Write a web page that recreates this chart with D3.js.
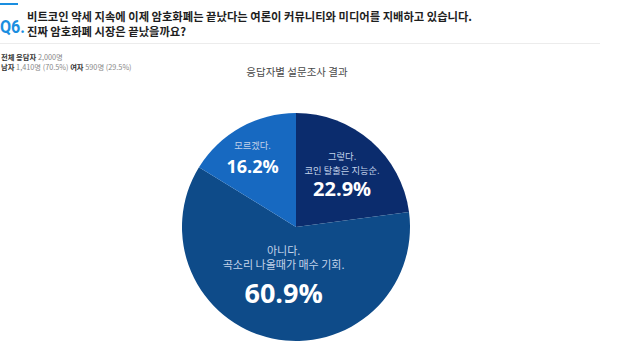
<!DOCTYPE html>
<html><head><meta charset="utf-8">
<script src="https://cdn.jsdelivr.net/npm/d3@7/dist/d3.min.js"></script>
<style>
html,body{margin:0;padding:0;background:#fff;}
svg{display:block;font-family:"Noto Sans CJK KR","Noto Sans",sans-serif;}
</style></head>
<body>
<svg id="c" width="640" height="360"></svg>
<script>
// ---- data ----
const questionNo = "Q6.";
const titleLines = ["비트코인 약세 지속에 이제 암호화폐는 끝났다는 여론이 커뮤니티와 미디어를 지배하고 있습니다.",
                    "진짜 암호화폐 시장은 끝났을까요?"];
const chartTitle = "응답자별 설문조사 결과";
const respondentLabels = ["전체 응답자", "남자", "여자"];
const respondentValues = ["2,000명", "1,410명 (70.5%)", "590명 (29.5%)"];
const categories = [["그렇다.", "코인 탈출은 지능순."],
                    ["아니다.", "곡소리 나올때가 매수 기회."],
                    ["모르겠다."]];
const values = [22.9, 60.9, 16.2];

// ---- styles ----
const colors = ["#0b2c6d", "#0e4b89", "#1769c1"];
const labelStyle = [
  {r: 70, dx: 0, small: 9.3, big: 20, y0: -14, lh: 13.5, gap: 22.5},
  {r: 45, dx: -3, small: 11, big: 27, y0: -16.5, lh: 14.5, gap: 33.5},
  {r: 83, dx: -3, small: 9.3, big: 18, y0: -5.5, lh: 13, gap: 24}
];

const svg = d3.select("#c");

// header
svg.append("rect").attr("x", 0).attr("y", 3).attr("width", 18).attr("height", 2).attr("fill", "#1a8ee0");
svg.append("text").attr("x", 0).attr("y", 33)
  .attr("font-size", 19).attr("font-weight", 700).attr("fill", "#1a8ee0")
  .attr("textLength", 25).attr("lengthAdjust", "spacingAndGlyphs")
  .attr("font-family", "Roboto, 'Noto Sans', sans-serif").text(questionNo);
titleLines.forEach((t, i) => {
  svg.append("text").attr("x", 27).attr("y", 21 + i * 15)
    .attr("font-size", 11.3).attr("font-weight", 700).attr("fill", "#1e1e1e").text(t);
});
svg.append("line").attr("x1", 0).attr("x2", 600).attr("y1", 43.5).attr("y2", 43.5)
  .attr("stroke", "#ececec").attr("stroke-width", 1);

// respondent info
const info1 = svg.append("text").attr("x", 1).attr("y", 60).attr("font-size", 7.3);
info1.append("tspan").attr("font-weight", 700).attr("fill", "#333").text(respondentLabels[0] + " ");
info1.append("tspan").attr("fill", "#888").text(respondentValues[0]);
const info2 = svg.append("text").attr("x", 1).attr("y", 70).attr("font-size", 7.3);
info2.append("tspan").attr("font-weight", 700).attr("fill", "#333").text(respondentLabels[1] + " ");
info2.append("tspan").attr("fill", "#888").text(respondentValues[1] + " ");
info2.append("tspan").attr("font-weight", 700).attr("fill", "#333").text(respondentLabels[2] + " ");
info2.append("tspan").attr("fill", "#888").text(respondentValues[2]);

// chart title
svg.append("text").attr("x", 297).attr("y", 76).attr("text-anchor", "middle")
  .attr("font-size", 10.5).attr("fill", "#4a4a4a").text(chartTitle);

// pie
const cx = 296, cy = 227, R = 114;
const pie = d3.pie().sort(null).value(d => d);
const arcs = pie(values);
const arc = d3.arc().innerRadius(0).outerRadius(R);
const g = svg.append("g").attr("transform", `translate(${cx},${cy})`);
g.selectAll("path").data(arcs).join("path")
  .attr("d", arc).attr("fill", (d, i) => colors[i]);

// labels
arcs.forEach((a, i) => {
  const st = labelStyle[i];
  const la = d3.arc().innerRadius(st.r).outerRadius(st.r);
  const [x, y] = la.centroid(a);
  const lines = categories[i];
  lines.forEach((ln, j) => {
    g.append("text").attr("x", x + st.dx).attr("y", y + st.y0 + j * st.lh)
      .attr("text-anchor", "middle").attr("font-size", st.small)
      .attr("fill", "#c3d3ea").text(ln);
  });
  g.append("text").attr("x", x + st.dx).attr("y", y + st.y0 + (lines.length - 1) * st.lh + st.gap)
    .attr("text-anchor", "middle").attr("font-size", st.big).attr("font-weight", 700)
    .attr("font-family", "'Open Sans','Noto Sans',sans-serif")
    .attr("fill", "#ffffff").text(d3.format(".1f")(values[i]) + "%");
});
</script>
</body></html>
